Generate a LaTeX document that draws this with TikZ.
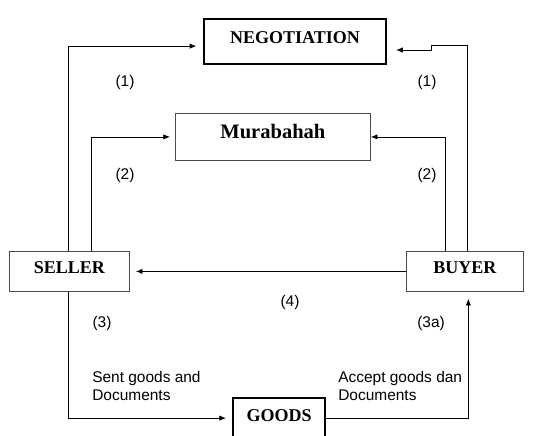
\documentclass[tikz,border=0pt]{standalone}
\usepackage{fontspec}
\setmainfont{Liberation Serif}
\setsansfont{Liberation Sans}
\usetikzlibrary{arrows.meta}

\begin{document}
\begin{tikzpicture}[x=0.75pt, y=-0.75pt,
    party/.style={draw=black!70, line width=0.6pt, inner sep=0pt, font=\fontsize{13.5}{16}\selectfont\bfseries},
    heavy/.style={draw, line width=1.6pt, inner sep=0pt, font=\fontsize{13.5}{16}\selectfont\bfseries},
    lbl/.style={font=\sffamily\fontsize{11.6}{13.6}\selectfont, inner sep=0pt},
    flow/.style={line width=0.6pt, -{Latex[length=5pt,width=4pt]}}]
    \useasboundingbox (0,0) rectangle (534,435);
    \clip (0,0) rectangle (534,435);
    \node[heavy, anchor=north west, minimum width=136.5pt, text height=18.4pt, text depth=15.4pt] (NEG) at (203,18) {NEGOTIATION};
    \node[party, anchor=north west, minimum width=146.25pt, text height=18.75pt, text depth=16.5pt, font=\fontsize{15.4}{18}\selectfont\bfseries] (MUR) at (175,113) {Murabahah};
    \node[party, anchor=north west, minimum width=90pt, text height=16.9pt, text depth=13.1pt] (SELLER) at (9,251) {SELLER};
    \node[party, anchor=north west, minimum width=87.75pt, text height=16.9pt, text depth=13.1pt] (BUYER) at (406,251) {BUYER};
    \node[heavy, anchor=north west, minimum width=69pt, text height=17.25pt, text depth=15pt] (GOODS) at (232,397) {GOODS};
    \coordinate (jogA) at (431,45);
    \coordinate (jogB) at (431,50);
    \draw[flow, shorten >=5pt] ([xshift=-0.75pt]SELLER.north) |- ([yshift=-3.4pt]NEG.west);
    \draw[flow, shorten >=3.75pt] ([xshift=16.5pt]SELLER.north) |- (MUR.west);
    \draw[flow] ([xshift=-14.6pt]BUYER.north) |- (MUR.east);
    \draw[flow, shorten >=6.75pt] ([xshift=1.9pt]BUYER.north) |- (jogA) -- (jogB) -- (jogB -| NEG.east);
    \draw[flow, shorten >=4.5pt] (BUYER) -- (SELLER);
    \draw[flow, shorten >=4.5pt] ([xshift=-0.75pt]SELLER.south) |- ([yshift=1.1pt]GOODS.west);
    \draw[flow, shorten >=5.25pt] ([yshift=1.1pt]GOODS.east) -| ([xshift=2.6pt]BUYER.south);
    \node[lbl] (oneL) at (125,82) {(1)};
    \node[lbl] (oneR) at (427,82) {(1)};
    \node[lbl] (twoL) at (125,175) {(2)};
    \node[lbl] (twoR) at (427,175) {(2)};
    \node[lbl] (three) at (102,323) {(3)};
    \node[lbl] (threeA) at (431,323) {(3a)};
    \node[lbl] (four) at (290,302) {(4)};
    \node[lbl, anchor=west, align=left] (sent) at (92,386) {Sent goods and\\Documents};
    \node[lbl, anchor=west, align=left] (accept) at (338,386) {Accept goods dan\\Documents};
\end{tikzpicture}
\end{document}
